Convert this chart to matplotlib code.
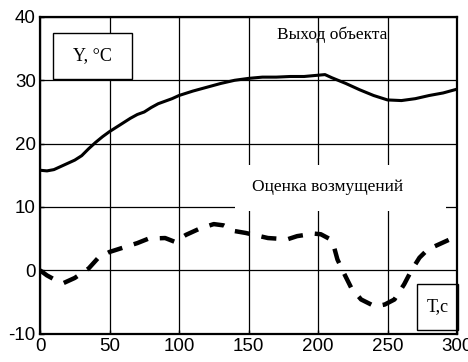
import matplotlib
matplotlib.use("Agg")
import matplotlib.pyplot as plt
from matplotlib.patches import Rectangle

plt.rcParams["axes.unicode_minus"] = False

# Output of the object (solid line)
t_out = [0, 5, 10, 15, 20, 25, 30, 35, 40, 45, 50, 55, 60, 65, 70, 75, 80, 85, 90, 95,
         100, 110, 120, 130, 140, 150, 160, 170, 180, 190, 200, 205, 210, 220, 230, 240,
         250, 260, 270, 280, 290, 300]
y_out = [15.8, 15.7, 15.9, 16.4, 16.9, 17.4, 18.1, 19.2, 20.2, 21.1, 21.9, 22.6, 23.3,
         24.0, 24.6, 25.0, 25.7, 26.3, 26.7, 27.1, 27.6, 28.3, 28.9, 29.5, 30.0, 30.3,
         30.5, 30.5, 30.6, 30.6, 30.8, 30.9, 30.4, 29.5, 28.5, 27.6, 26.9, 26.8, 27.1,
         27.6, 28.0, 28.6]

# Disturbance estimate (dashed line)
t_dist = [0, 5, 10, 17, 25, 35, 42, 50, 60, 70, 78, 90, 97, 105, 115, 125, 132, 140,
          148, 164, 178, 185, 197, 202, 208, 211, 214, 219, 224, 231, 241, 248, 255, 262,
          267, 273, 279, 289, 297, 300]
y_dist = [0.0, -0.8, -1.4, -2.0, -1.2, 0.3, 2.0, 2.9, 3.6, 4.3, 5.0, 5.1, 4.5, 5.6, 6.6,
          7.3, 7.1, 6.2, 5.9, 5.1, 4.9, 5.4, 5.8, 5.7, 5.0, 4.1, 1.7, -0.6, -2.8, -4.6,
          -5.7, -5.4, -4.6, -2.2, -0.1, 2.0, 3.3, 4.3, 5.1, 5.3]

x_ticks = [0, 50, 100, 150, 200, 250, 300]
y_ticks = [-10, 0, 10, 20, 30, 40]

label_out = "Выход объекта"
label_dist = "Оценка возмущений"
label_y = "Y, °C"
label_x = "T,c"

fig = plt.figure(figsize=(4.68, 3.62), dpi=100)
ax = fig.add_axes([0.0855, 0.0782, 0.891, 0.875])

ax.set_xlim(0, 300)
ax.set_ylim(-10, 40)
ax.set_xticks(x_ticks)
ax.set_yticks(y_ticks)
ax.grid(True, color="black", linewidth=0.9, zorder=0)
ax.set_axisbelow(True)
ax.tick_params(direction="in", length=3, pad=3, labelsize=13.5, width=1)
for lab in ax.get_xticklabels() + ax.get_yticklabels():
    lab.set_fontfamily("Liberation Sans")
for sp in ax.spines.values():
    sp.set_linewidth(1.6)

ax.plot(t_out, y_out, color="black", linewidth=2.2, zorder=3)
ax.plot(t_dist, y_dist, color="black", linewidth=3.2, dashes=(3.4, 2.7), zorder=3)

serif = "Liberation Serif"
# white patch behind disturbance label
ax.add_patch(Rectangle((140.6, 9.35), 151.4, 7.25, facecolor="white",
                       edgecolor="none", zorder=2))
ax.text(206.6, 13.1, label_dist, ha="center", va="center", fontsize=12.5,
        family=serif, zorder=4)
ax.text(210.5, 37.2, label_out, ha="center", va="center", fontsize=12.5,
        family=serif, zorder=4)

# Y label box
ax.add_patch(Rectangle((9.4, 30.2), 56.9, 7.3, facecolor="white",
                       edgecolor="black", linewidth=1.0, zorder=2))
ax.text(37.8, 33.9, label_y, ha="center", va="center", fontsize=13,
        family=serif, zorder=4)

# T label box
ax.add_patch(Rectangle((271, -9.45), 29.7, 7.25, facecolor="white",
                       edgecolor="black", linewidth=1.0, zorder=2, clip_on=False))
ax.text(286, -5.8, label_x, ha="center", va="center", fontsize=13,
        family=serif, zorder=4)

fig.savefig("out.png", dpi=100)
